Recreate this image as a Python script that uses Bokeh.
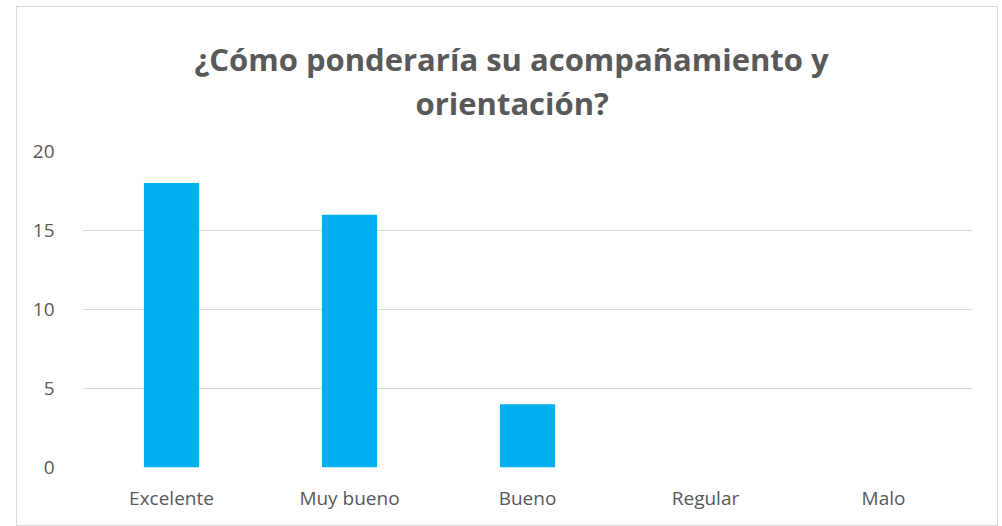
from bokeh.plotting import figure
from bokeh.models import FixedTicker, Range1d, Title
from bokeh.embed import file_html
from bokeh.resources import INLINE

categories = ["Excelente", "Muy bueno", "Bueno", "Regular", "Malo"]
values = [18, 16, 4, 0, 0]
y_ticks = [0, 5, 10, 15, 20]
title_line1 = "¿Cómo ponderaría su acompañamiento y"
title_line2 = "orientación?"

FONT = "Open Sans"
GRAY = "#595959"

p = figure(x_range=categories, y_range=Range1d(0, 20),
           width=982, height=520, output_backend="svg", toolbar_location=None,
           min_border_left=65, min_border_right=27, min_border_top=0, min_border_bottom=60,
           margin=(6, 0, 0, 16))
p.styles = {"border": "1px solid #d9d9d9", "box-sizing": "border-box"}

p.vbar(x=categories, top=values, width=0.31, fill_color="#00B0F0", line_color=None)

def style_title(t, offset):
    t.align = "left"
    t.offset = offset
    t.standoff = 0
    t.text_font = FONT
    t.text_font_size = "31px"
    t.text_font_style = "bold"
    t.text_color = GRAY

# titles in "above" stack outward from the frame in the order they are added;
# p.title is the outermost one and serves as a top spacer
p.title.text = " "
p.title.text_font_size = "10px"
p.title.standoff = 15

spacer = Title(text=" ", text_font_size="10px", standoff=15)
p.add_layout(spacer, "above")
t2 = Title(text=title_line2)
style_title(t2, 333)
p.add_layout(t2, "above")
t1 = Title(text=title_line1)
style_title(t1, 112)
p.add_layout(t1, "above")

p.outline_line_color = None
p.xgrid.grid_line_color = None
p.ygrid.grid_line_color = "#d9d9d9"
p.ygrid.grid_line_width = 1

p.yaxis.ticker = FixedTicker(ticks=y_ticks)
for ax in (p.xaxis, p.yaxis):
    ax.axis_line_color = None
    ax.major_tick_line_color = None
    ax.minor_tick_line_color = None
    ax.major_label_text_font = FONT
    ax.major_label_text_font_size = "19px"
    ax.major_label_text_color = GRAY
p.yaxis.major_label_standoff = 22
p.xaxis.major_label_standoff = 11

open("out.html", "w").write(file_html(p, INLINE))
